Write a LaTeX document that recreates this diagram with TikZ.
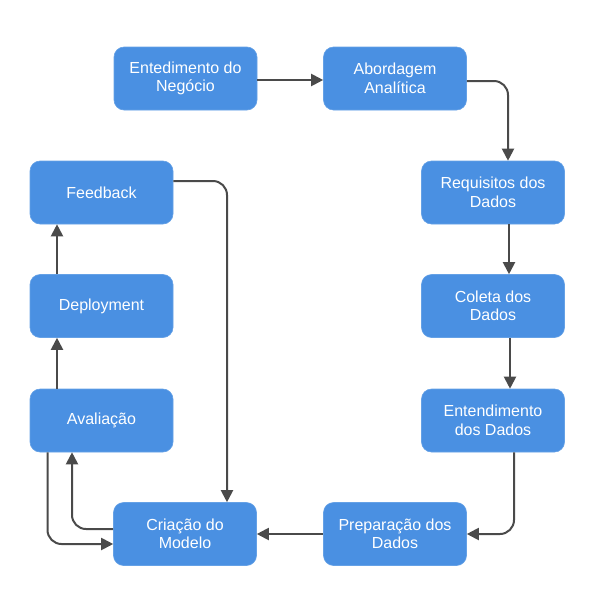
\documentclass[tikz,border=0pt]{standalone}
\usepackage{fontspec}
\setmainfont{Liberation Sans}
\usetikzlibrary{arrows.meta,calc}
\definecolor{boxblue}{HTML}{4A90E2}
\definecolor{linegray}{HTML}{4A4A4A}
\begin{document}
\begin{tikzpicture}[x=1pt,y=-1pt,
  box/.style={draw=boxblue!85!white,line width=0.6pt,fill=boxblue,rounded corners=10pt,minimum width=143pt,minimum height=63pt,
    inner sep=0pt,text=white,align=center,font=\fontsize{16}{18.5}\selectfont},
  arr/.style={draw=linegray,line width=2pt,-{Triangle[length=12pt,width=12pt]},rounded corners=14pt}]
\useasboundingbox (0,0) rectangle (595,595);
\node[box] (neg) at (185.5,78.5) {Entedimento do\\Negócio};
\node[box] (abo) at (395,78.5) {Abordagem\\Analítica};
\node[box] (req) at (493,192.5) {Requisitos dos\\Dados};
\node[box] (col) at (493,306) {Coleta dos\\Dados};
\node[box] (ent) at (493,420.5) {Entendimento\\dos Dados};
\node[box] (pre) at (395,534) {Preparação dos\\Dados};
\node[box] (cri) at (185,534) {Criação do\\Modelo};
\node[box] (ava) at (101.5,420.5) {Avaliação};
\node[box] (dep) at (101.5,306) {Deployment};
\node[box] (fee) at (101.5,192.5) {Feedback};
\draw[arr] ([yshift=-1.5pt]neg.east) -- ([yshift=-1.5pt]abo.west);
\draw[arr] ([yshift=-2.5pt]abo.east) -| ([xshift=15pt]req.north);
\draw[arr] ([xshift=16pt]req.south) -- ([xshift=16pt]col.north);
\draw[arr] ([xshift=17pt]col.south) -- ([xshift=17pt]ent.north);
\draw[arr] ([xshift=21pt]ent.south) |- (pre.east);
\draw[arr] (pre.west) -- (cri.east);
\draw[arr] ([yshift=5pt]cri.west) -| ([xshift=-29.5pt]ava.south);
\draw[arr] ([xshift=-54pt]ava.south) |- ([yshift=-10pt]cri.west);
\draw[arr] ([xshift=-44.5pt]ava.north) -- ([xshift=-44.5pt]dep.south);
\draw[arr] ([xshift=-44.5pt]dep.north) -- ([xshift=-44.5pt]fee.south);
\draw[arr] ([yshift=11.5pt]fee.east) -| ([xshift=42pt]cri.north);
\end{tikzpicture}
\end{document}
